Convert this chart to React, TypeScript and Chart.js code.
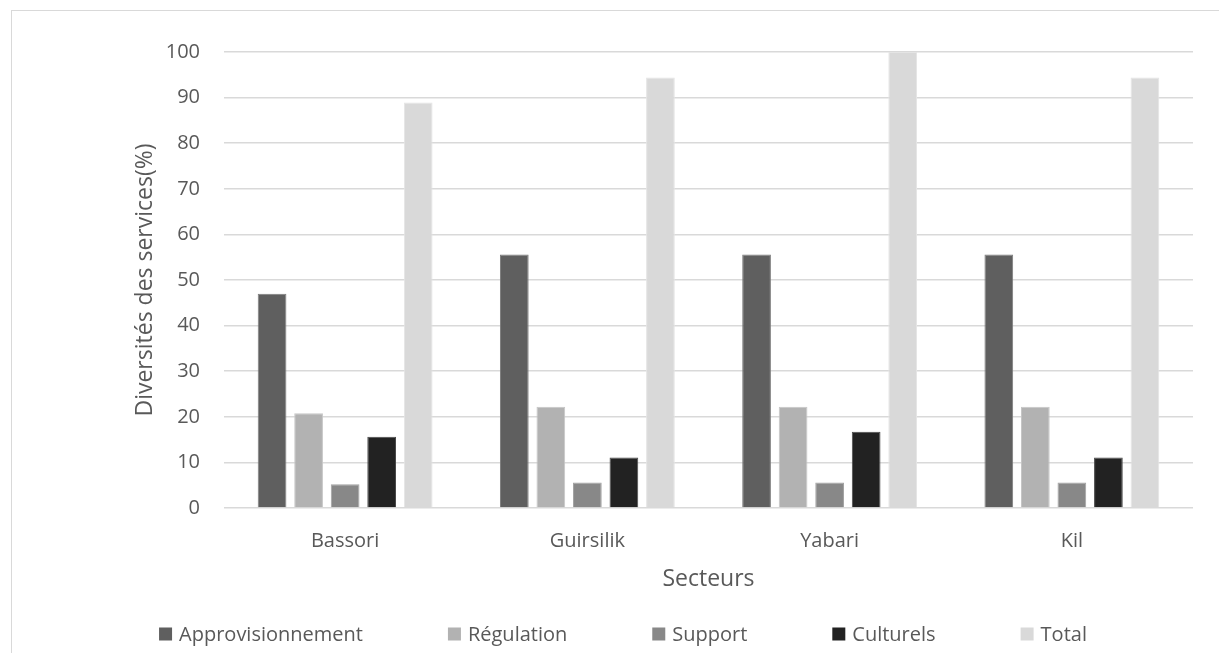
import React, { useEffect, useRef } from "react";
import { Chart, registerables } from "chart.js";

Chart.register(...registerables);

const categories = ["Bassori", "Guirsilik", "Yabari", "Kil"];
const approvisionnement = [47, 55.6, 55.6, 55.6];
const regulation = [20.8, 22.2, 22.2, 22.2];
const support = [5.2, 5.6, 5.6, 5.6];
const culturels = [15.6, 11.1, 16.7, 11.1];
const total = [88.9, 94.4, 100, 94.4];

const seriesNames = ["Approvisionnement", "Régulation", "Support", "Culturels", "Total"];
const seriesColors = ["#5f5f5f", "#b2b2b2", "#888888", "#222222", "#d9d9d9"];
const seriesEdges = ["#7c7c7c", "#c6c6c6", "#a2a2a2", "#4a4a4a", "#e4e4e4"];

const FONT = "'Open Sans', sans-serif";
const TEXT = "#595959";

// Legend drawn on the canvas in a single row (Excel style)
const bottomLegend = {
  id: "bottomLegend",
  afterDraw(chart: any) {
    const ctx = chart.ctx;
    const box = 13;
    const textGap = 7;
    const itemGap = 85;
    ctx.save();
    ctx.font = `20px ${FONT}`;
    ctx.textBaseline = "middle";
    ctx.textAlign = "left";
    const items = chart.data.datasets.map((ds: any) => ({
      label: ds.label,
      color: ds.backgroundColor,
      w: box + textGap + ctx.measureText(ds.label).width,
    }));
    const totalW = items.reduce((s: number, it: any) => s + it.w, 0) + itemGap * (items.length - 1);
    const centerX = 611;
    const y = chart.height - 22;
    let x = centerX - totalW / 2;
    for (const it of items) {
      ctx.fillStyle = it.color;
      ctx.fillRect(x, y - box / 2, box, box);
      ctx.fillStyle = TEXT;
      ctx.fillText(it.label, x + box + textGap, y + 1);
      x += it.w + itemGap;
    }
    ctx.restore();
  },
};

export default function App() {
  const ref = useRef<HTMLCanvasElement | null>(null);

  useEffect(() => {
    if (!ref.current) return;
    const values = [approvisionnement, regulation, support, culturels, total];
    const chart = new Chart(ref.current, {
      type: "bar",
      data: {
        labels: categories,
        datasets: seriesNames.map((name, i) => ({
          label: name,
          data: values[i],
          backgroundColor: seriesColors[i],
          borderColor: seriesEdges[i],
          borderWidth: 1,
          categoryPercentage: 0.754,
          barPercentage: 0.786,
        })),
      },
      plugins: [bottomLegend],
      options: {
        animation: false,
        responsive: false,
        maintainAspectRatio: false,
        layout: { padding: { left: 35, right: 43, top: 41, bottom: 42 } },
        plugins: {
          tooltip: { enabled: false },
          legend: { display: false },
        },
        scales: {
          x: {
            grid: { display: false, drawTicks: false },
            border: { display: false },
            ticks: { color: TEXT, font: { family: FONT, size: 20 }, padding: 21 },
            title: {
              display: true,
              text: "Secteurs",
              color: TEXT,
              font: { family: FONT, size: 23 },
              padding: { top: 12, bottom: 21 },
            },
            afterFit(scale: any) {
              scale.height = 106;
            },
          },
          y: {
            min: 0,
            max: 100,
            ticks: {
              stepSize: 10,
              autoSkip: false,
              color: TEXT,
              font: { family: FONT, size: 20 },
              padding: 24,
            },
            grid: { color: "#d9d9d9", lineWidth: 1.5, drawTicks: false },
            border: { display: false },
            title: {
              display: true,
              text: "Diversités des services(%)",
              color: TEXT,
              font: { family: FONT, size: 23 },
              padding: { top: 85, bottom: 9 },
            },
            afterFit(scale: any) {
              scale.width = 177;
            },
          },
        },
      },
    });
    return () => chart.destroy();
  }, []);

  return (
    <div
      style={{
        position: "absolute",
        left: 11,
        top: 10,
        width: 1208,
        height: 643,
        overflow: "hidden",
        borderLeft: "1px solid #d9d9d9",
        borderTop: "1px solid #d9d9d9",
        background: "#ffffff",
      }}
    >
      <canvas ref={ref} width={1224} height={645} style={{ display: "block" }} />
    </div>
  );
}
